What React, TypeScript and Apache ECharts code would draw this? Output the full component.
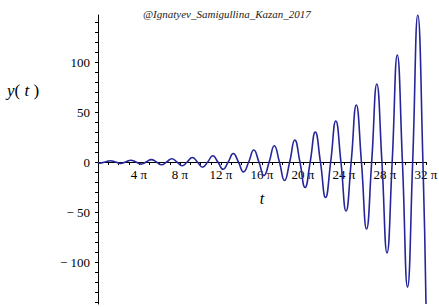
import React, { useEffect, useRef } from 'react';
import * as echarts from 'echarts';

// t positions in units of pi (extrema and zero crossings)
const tPi = [
  0.0, 0.2, 0.7, 1.2, 1.7, 2.2, 2.7, 3.2, 3.7, 4.2, 4.7, 5.2, 5.7, 6.2, 6.7, 7.2, 7.7,
  8.2, 8.7, 9.2, 9.7, 10.2, 10.7, 11.2, 11.7, 12.2, 12.7, 13.2, 13.7, 14.2, 14.7, 15.2, 15.7,
  16.2, 16.7, 17.2, 17.7, 18.2, 18.7, 19.2, 19.7, 20.2, 20.7, 21.2, 21.7, 22.2, 22.7, 23.2, 23.7,
  24.2, 24.7, 25.2, 25.7, 26.2, 26.7, 27.2, 27.7, 28.2, 28.7, 29.2, 29.7, 30.2, 30.7, 31.2, 31.7,
  32.0,
];
// y(t) values at those positions
const yValues = [
  -0.6, -1.1, 0, 1.3, 0, -1.5, 0, 1.8, 0, -2.1, 0, 2.4, 0, -2.8, 0, 3.3, 0,
  -3.8, 0, 4.5, 0, -5.2, 0, 6.2, 0, -7.2, 0, 8.5, 0, -9.9, 0, 12, 0,
  -13.5, 0, 16.3, 0, -18.5, 0, 22, 0, -25.5, 0, 30, 0, -35.5, 0, 41, 0,
  -49, 0, 57, 0, -67, 0, 78, 0, -91, 0, 107, 0, -125, 0, 147, 0,
  -142,
];
const yTickValues = [-100, -50, 0, 50, 100];
const titleText = '@Ignatyev_Samigullina_Kazan_2017';
const yMin = -142;
const yMax = 147;

const SERIF = "'Liberation Serif', 'Times New Roman', 'DejaVu Serif', serif";

export default function App() {
  const ref = useRef<HTMLDivElement>(null);
  useEffect(() => {
    document.body.style.margin = '0';
    const chart = echarts.init(ref.current as HTMLDivElement, null, { renderer: 'svg' });
    const data = tPi.map((t, i) => [t, yValues[i]]);
    chart.setOption({
      animation: false,
      title: {
        text: titleText,
        left: 138,
        top: 3,
        textStyle: {
          fontFamily: SERIF,
          fontStyle: 'italic',
          fontWeight: 'normal',
          fontSize: 11,
          color: '#222',
        },
      },
      grid: { left: 98, right: 13, top: 15, bottom: 3, containLabel: false, outerBoundsMode: 'none' },
      xAxis: {
        type: 'value',
        min: 0,
        max: 32,
        interval: 4,
        position: 'bottom',
        offset: yMin, // lift the axis from the grid bottom up to y = 0 (1 px per unit)
        name: 't',
        nameLocation: 'middle',
        nameGap: 28,
        nameTextStyle: { fontFamily: SERIF, fontStyle: 'italic', fontSize: 16, color: '#000' },
        axisLine: { onZero: false, lineStyle: { color: '#000', width: 1 } },
        axisTick: { show: true, length: 3, lineStyle: { color: '#000' } },
        minorTick: { show: true, splitNumber: 4, length: 3, lineStyle: { color: '#000' } },
        axisLabel: {
          formatter: (v: number) => (v === 0 ? '' : `${v} π`),
          margin: 6,
          fontFamily: SERIF,
          fontSize: 13,
          color: '#000',
        },
        splitLine: { show: false },
        minorSplitLine: { show: false },
      },
      yAxis: {
        type: 'value',
        min: yMin,
        max: yMax,
        axisLine: { show: true, onZero: false, lineStyle: { color: '#000', width: 1 } },
        axisTick: { show: true, length: 3, customValues: yTickValues, lineStyle: { color: '#000' } },
        minorTick: { show: true, splitNumber: 5, length: 3, lineStyle: { color: '#000' } },
        axisLabel: {
          customValues: yTickValues,
          formatter: (v: number) => (v < 0 ? '\u2212 ' + Math.abs(v) : String(v)),
          margin: 8,
          fontFamily: SERIF,
          fontSize: 13,
          color: '#000',
        },
        splitLine: { show: false },
        minorSplitLine: { show: false },
      },
      graphic: [
        {
          type: 'text',
          x: 7,
          y: 90,
          style: {
            text: '{i|y}( {i|t} )',
            fontFamily: SERIF,
            fontSize: 17,
            fill: '#000',
            verticalAlign: 'middle',
            rich: {
              i: { fontFamily: SERIF, fontStyle: 'italic', fontSize: 17, color: '#000' },
            },
          },
        },
      ],
      series: [
        {
          type: 'line',
          data,
          smooth: 0.5,
          showSymbol: false,
          lineStyle: { color: '#26269a', width: 1.6 },
          clip: true,
        },
      ],
    });
    return () => chart.dispose();
  }, []);
  return <div ref={ref} style={{ width: 439, height: 307 }} />;
}
